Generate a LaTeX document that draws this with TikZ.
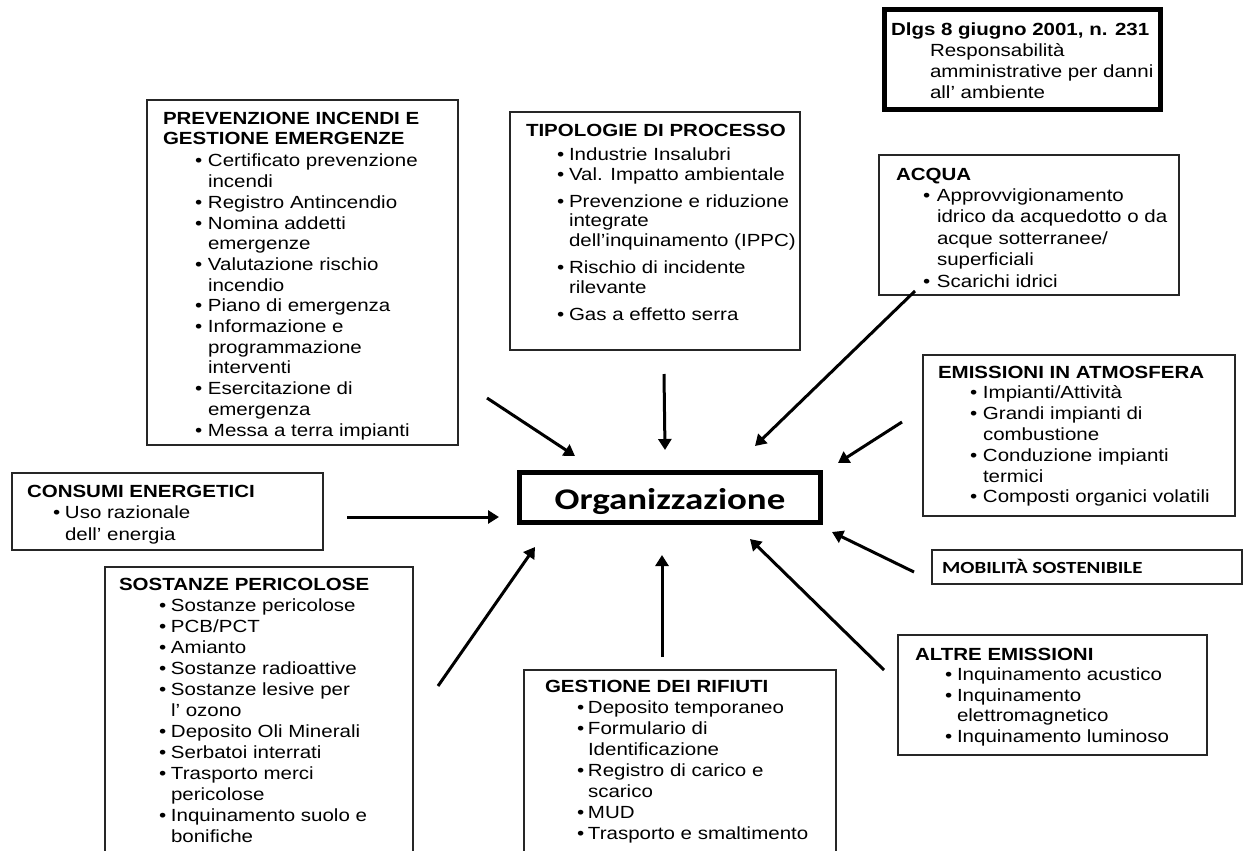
\documentclass[tikz,border=0pt]{standalone}
\usepackage{fontspec}
\setmainfont{Liberation Sans}[FakeStretch=1.165]
\newfontfamily\calib{Carlito}[FakeStretch=1.23]
\usetikzlibrary{arrows.meta}
\newlength\bx
\newlength\tx
\newcommand\bul{\hspace*{\bx}\makebox[\dimexpr\tx-\bx\relax][l]{\textbullet}}
\newcommand\cnt{\hspace*{\tx}}
\newcommand\fl{\rule{0pt}{14bp}}
\tikzset{
  panel/.style={draw=black!85, line width=1.5bp, anchor=north west, inner sep=0, outer sep=0},
  thickpanel/.style={draw=black, line width=5bp, inner sep=0, outer sep=0},
  txt/.style={anchor=north west, inner sep=0, outer sep=0, align=left, text=black,
    font=\fontsize{17.6bp}{#1}\selectfont},
  txt/.default=20.8bp,
  arr/.style={line width=3bp, -{Triangle[length=11bp,width=13bp]}},
}
\begin{document}
\begin{tikzpicture}[x=1bp,y=-1bp]
\useasboundingbox (0,0) rectangle (1247,851);
\clip (0,0) rectangle (1247,851);
\fill[white] (0,0) rectangle (1247,851);

% Dlgs box
\node[thickpanel, anchor=north west, minimum width=276bp, minimum height=100bp] (dlgs) at (884.5,9.5) {};
\node[txt=21bp] (dlgst) at (891,21) {\fl\textbf{Dlgs 8 giugno 2001, n. 231}\\
\hspace*{39bp}Responsabilità\\
\hspace*{39bp}amministrative per danni\\
\hspace*{39bp}all’ ambiente};

% Prevenzione incendi
\setlength\bx{32bp}\setlength\tx{45bp}
\node[panel, minimum width=311bp, minimum height=345bp] (prev) at (147,100) {};
\node[txt=20.7bp] (prevt) at (163,110) {\fl\textbf{PREVENZIONE INCENDI E}\\
\textbf{GESTIONE EMERGENZE}\\[1.5bp]
\bul Certificato prevenzione\\
\cnt incendi\\
\bul Registro Antincendio\\
\bul Nomina addetti\\
\cnt emergenze\\
\bul Valutazione rischio\\
\cnt incendio\\
\bul Piano di emergenza\\
\bul Informazione e\\
\cnt programmazione\\
\cnt interventi\\
\bul Esercitazione di\\
\cnt emergenza\\
\bul Messa a terra impianti};

% Tipologie di processo
\setlength\bx{31bp}\setlength\tx{43bp}
\node[panel, minimum width=290bp, minimum height=238bp] (tip) at (510,112) {};
\node[txt=19.5bp] (tipt) at (526,122) {\fl\textbf{TIPOLOGIE DI PROCESSO}\\[4.5bp]
\bul Industrie Insalubri\\[0.5bp]
\bul Val. Impatto ambientale\\[7.5bp]
\bul Prevenzione e riduzione\\
\cnt integrate\\
\cnt dell'inquinamento (IPPC)\\[8bp]
\bul Rischio di incidente\\
\cnt rilevante\\[7.5bp]
\bul Gas a effetto serra};

% Acqua
\setlength\bx{27bp}\setlength\tx{41bp}
\node[panel, minimum width=300bp, minimum height=140bp] (acq) at (879,155) {};
\node[txt=21.4bp] (acqt) at (896,166) {\fl\textbf{ACQUA}\\
\bul Approvvigionamento\\
\cnt idrico da acquedotto o da\\
\cnt acque sotterranee/\\
\cnt superficiali\\
\bul Scarichi idrici};

% Emissioni in atmosfera
\setlength\bx{32bp}\setlength\tx{45bp}
\node[panel, minimum width=312bp, minimum height=161bp] (emi) at (923,355) {};
\node[txt=20.8bp] (emit) at (938,364) {\fl\textbf{EMISSIONI IN ATMOSFERA}\\
\bul Impianti/Attività\\
\bul Grandi impianti di\\
\cnt combustione\\
\bul Conduzione impianti\\
\cnt termici\\
\bul Composti organici volatili};

% Mobilita sostenibile
\node[panel, minimum width=310bp, minimum height=34bp] (mob) at (932,550) {};
\node[anchor=base west, inner sep=0] (mobt) at (942,573) {\calib\bfseries\fontsize{17bp}{20bp}\selectfont MOBILITÀ SOSTENIBILE};

% Consumi energetici
\setlength\bx{26bp}\setlength\tx{38bp}
\node[panel, minimum width=311bp, minimum height=77bp] (con) at (12,473) {};
\node[txt=21.5bp] (cont) at (27,483) {\fl\textbf{CONSUMI ENERGETICI}\\
\bul Uso razionale\\
\cnt dell’ energia};

% Sostanze pericolose
\setlength\bx{40bp}\setlength\tx{52bp}
\node[panel, minimum width=308bp, minimum height=300bp] (sos) at (105,567) {};
\node[txt=21bp] (sost) at (119,576) {\fl\textbf{SOSTANZE PERICOLOSE}\\
\bul Sostanze pericolose\\
\bul PCB/PCT\\
\bul Amianto\\
\bul Sostanze radioattive\\
\bul Sostanze lesive per\\
\cnt l’ ozono\\
\bul Deposito Oli Minerali\\
\bul Serbatoi interrati\\
\bul Trasporto merci\\
\cnt pericolose\\
\bul Inquinamento suolo e\\
\cnt bonifiche};

% Gestione dei rifiuti
\setlength\bx{32bp}\setlength\tx{43bp}
\node[panel, minimum width=312bp, minimum height=200bp] (rif) at (524,670) {};
\node[txt=21.1bp] (rift) at (545,678) {\fl\textbf{GESTIONE DEI RIFIUTI}\\
\bul Deposito temporaneo\\
\bul Formulario di\\
\cnt Identificazione\\
\bul Registro di carico e\\
\cnt scarico\\
\bul MUD\\
\bul Trasporto e smaltimento};

% Altre emissioni
\setlength\bx{30bp}\setlength\tx{42bp}
\node[panel, minimum width=309bp, minimum height=120bp] (alt) at (898,635) {};
\node[txt=20.5bp] (altt) at (915,646) {\fl\textbf{ALTRE EMISSIONI}\\
\bul Inquinamento acustico\\
\bul Inquinamento\\
\cnt elettromagnetico\\
\bul Inquinamento luminoso};

% Organizzazione
\node[thickpanel, minimum width=301bp, minimum height=50bp] (org) at (670,497.5) {};
\node[anchor=base, inner sep=0] (orgt) at (670,509) {\calib\bfseries\fontsize{30bp}{36bp}\selectfont Organizzazione};

% arrow ends
\coordinate (s1) at (487,398);  \coordinate (e1) at (575,456);
\coordinate (s2) at (664,374);  \coordinate (e2) at (665,450);
\coordinate (s3) at (915,291);  \coordinate (e3) at (755,446);
\coordinate (s4) at (902,422);  \coordinate (e4) at (838,463);
\coordinate (s5) at (347,517);  \coordinate (e5) at (499,517);
\coordinate (s6) at (438,686);  \coordinate (e6) at (535,547);
\coordinate (s7) at (662,657);  \coordinate (e7) at (662,555);
\coordinate (s8) at (884,670);  \coordinate (e8) at (750,539);
\coordinate (s9) at (914,572);  \coordinate (e9) at (832,532);
\foreach \i in {1,...,9} {\draw[arr] (s\i) -- (e\i);}
\end{tikzpicture}
\end{document}
